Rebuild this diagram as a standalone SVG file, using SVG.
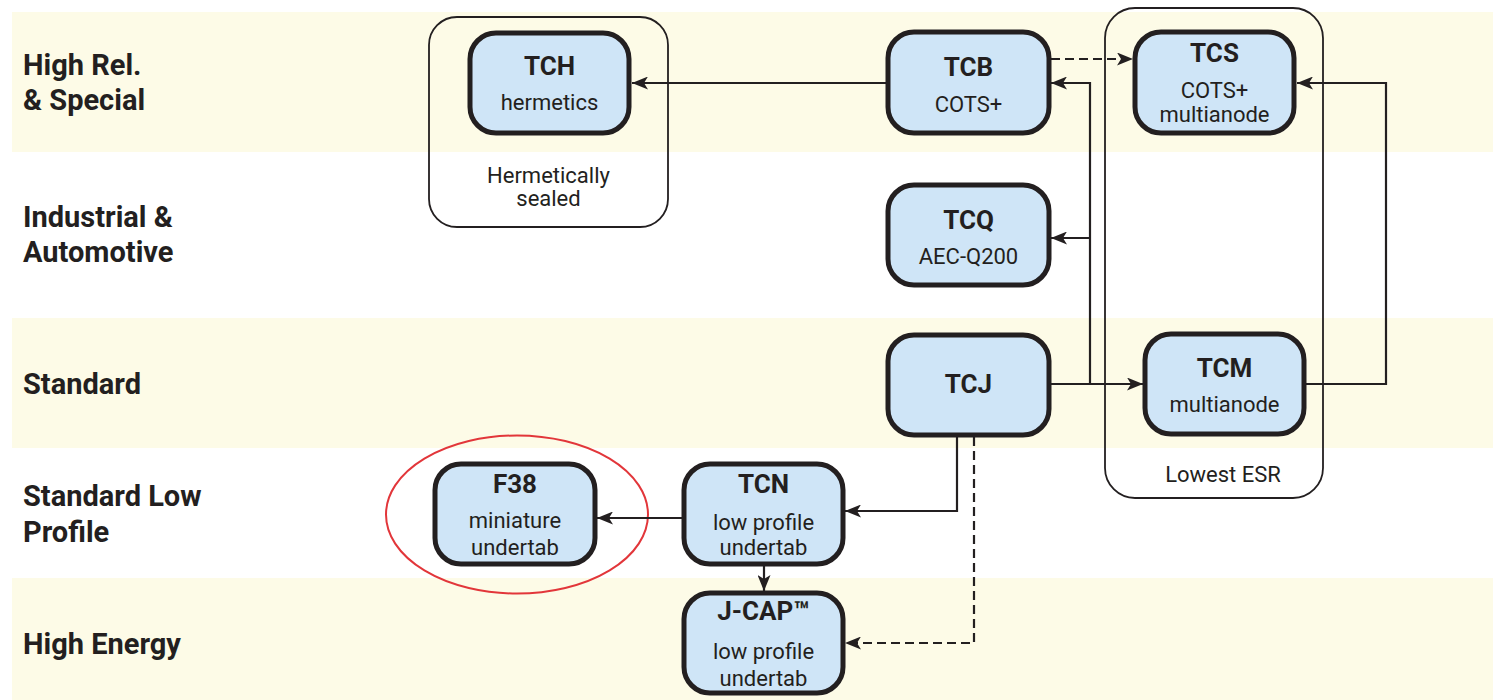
<svg xmlns="http://www.w3.org/2000/svg" width="1501" height="700" viewBox="0 0 1501 700">
<style>
.band{fill:#fdfbe7}
.lbl{font-family:Roboto,"Liberation Sans",sans-serif;font-weight:bold;font-size:29px;fill:#231f20}
.box{fill:#cfe5f7;stroke:#231f20;stroke-width:5}
.grp{fill:none;stroke:#231f20;stroke-width:1.8}
.t{font-family:Roboto,"Liberation Sans",sans-serif;font-weight:bold;font-size:26px;fill:#231f20;text-anchor:middle}
.s{font-family:Roboto,"Liberation Sans",sans-serif;font-size:22px;fill:#231f20;text-anchor:middle}
.c{fill:none;stroke:#231f20;stroke-width:2.2;marker-end:url(#ah)}
.d{stroke-dasharray:9 5}
</style>
<defs>
<marker id="ah" markerUnits="userSpaceOnUse" markerWidth="16" markerHeight="13" refX="16" refY="6.5" orient="auto">
<path d="M0,0 L16,6.5 L0,13 L4,6.5 z" fill="#231f20"/>
</marker>
</defs>
<g id="bands">
<rect class="band" x="12" y="12" width="1481" height="140"/>
<rect class="band" x="12" y="318" width="1481" height="130"/>
<rect class="band" x="12" y="578" width="1481" height="122"/>
</g>
<g id="row-labels">
<text class="lbl" x="23" y="75">High Rel.</text>
<text class="lbl" x="23" y="110">&amp; Special</text>
<text class="lbl" x="23" y="227">Industrial &amp;</text>
<text class="lbl" x="23" y="262">Automotive</text>
<text class="lbl" x="23" y="394">Standard</text>
<text class="lbl" x="23" y="506">Standard Low</text>
<text class="lbl" x="23" y="542">Profile</text>
<text class="lbl" x="23" y="654">High Energy</text>
</g>
<g id="group-hermetic">
<rect class="grp" x="429" y="17" width="239" height="210" rx="28"/>
<text class="s" x="548.5" y="183">Hermetically</text>
<text class="s" x="548.5" y="206">sealed</text>
</g>
<g id="group-lowesr">
<rect class="grp" x="1105" y="8" width="218" height="490" rx="30"/>
<text class="s" x="1223" y="482">Lowest ESR</text>
</g>
<g id="highlight">
<ellipse cx="517" cy="514.5" rx="131" ry="79" fill="none" stroke="#e2363a" stroke-width="2"/>
</g>
<g id="connectors">
<path class="c" d="M887,83 H632"/>
<path class="c d" d="M1051,59 H1133"/>
<path class="c" d="M1051,384 H1090 V83 H1051"/>
<path class="c" d="M1090,238 H1051"/>
<path class="c" d="M1090,384 H1143"/>
<path class="c" d="M1306,384 H1386 V83 H1297"/>
<path class="c" d="M957,437 V511 H845"/>
<path class="c d" d="M974,437 V643 H845"/>
<path class="c" d="M682,518 H597"/>
<path class="c" d="M764,566 V591"/>
</g>
<g id="TCH">
<rect class="box" x="470" y="33" width="159" height="100" rx="26"/>
<text class="t" x="549.5" y="75">TCH</text>
<text class="s" x="549.5" y="110">hermetics</text>
</g>
<g id="TCB">
<rect class="box" x="888" y="32" width="161" height="101" rx="26"/>
<text class="t" x="968.5" y="76">TCB</text>
<text class="s" x="968.5" y="112">COTS+</text>
</g>
<g id="TCS">
<rect class="box" x="1135" y="32" width="159" height="101" rx="26"/>
<text class="t" x="1214.5" y="62">TCS</text>
<text class="s" x="1214.5" y="98">COTS+</text>
<text class="s" x="1214.5" y="122">multianode</text>
</g>
<g id="TCQ">
<rect class="box" x="888" y="185" width="161" height="100" rx="26"/>
<text class="t" x="968.5" y="229">TCQ</text>
<text class="s" x="968.5" y="264">AEC-Q200</text>
</g>
<g id="TCJ">
<rect class="box" x="888" y="335" width="161" height="100" rx="26"/>
<text class="t" x="968.5" y="393">TCJ</text>
</g>
<g id="TCM">
<rect class="box" x="1145" y="334" width="159" height="100" rx="26"/>
<text class="t" x="1224.5" y="377">TCM</text>
<text class="s" x="1224.5" y="412">multianode</text>
</g>
<g id="TCN">
<rect class="box" x="684" y="464" width="159" height="100" rx="26"/>
<text class="t" x="763.5" y="493">TCN</text>
<text class="s" x="763.5" y="530">low profile</text>
<text class="s" x="763.5" y="555">undertab</text>
</g>
<g id="F38">
<rect class="box" x="435" y="464" width="160" height="100" rx="26"/>
<text class="t" x="515" y="493">F38</text>
<text class="s" x="515" y="528">miniature</text>
<text class="s" x="515" y="555">undertab</text>
</g>
<g id="JCAP">
<rect class="box" x="684" y="593" width="159" height="100" rx="26"/>
<text class="t" x="763.5" y="620">J-CAP™</text>
<text class="s" x="763.5" y="659">low profile</text>
<text class="s" x="763.5" y="686">undertab</text>
</g>
</svg>
